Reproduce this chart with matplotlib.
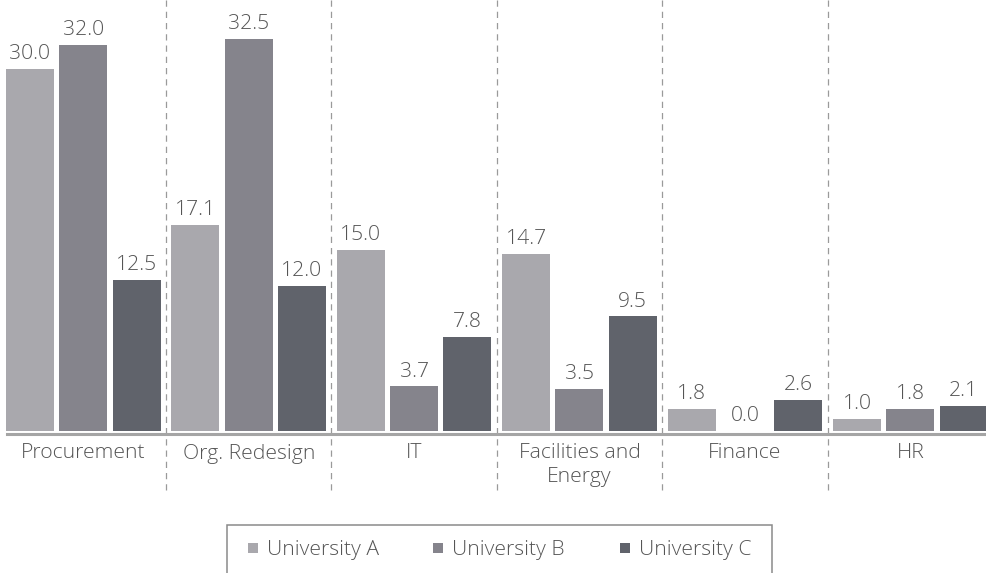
import matplotlib
matplotlib.use("Agg")
import matplotlib.pyplot as plt
from matplotlib.lines import Line2D
from matplotlib.patches import Rectangle
import numpy as np

categories = ["Procurement", "Org. Redesign", "IT", "Facilities and\nEnergy", "Finance", "HR"]
series_names = ["University A", "University B", "University C"]
uni_a = [30.0, 17.1, 15.0, 14.7, 1.8, 1.0]
uni_b = [32.0, 32.5, 3.7, 3.5, 0.0, 1.8]
uni_c = [12.5, 12.0, 7.8, 9.5, 2.6, 2.1]
colors = ["#a9a8ad", "#85848c", "#60636b"]

plt.rcParams['font.family'] = ['Open Sans', 'DejaVu Sans']
text_color = "#555555"
FS = 15.2
FW = 300

W, H = 986, 573
fig = plt.figure(figsize=(W / 100, H / 100), dpi=100)
base_px = 431
ax = fig.add_axes([0, (H - base_px) / H, 1, base_px / H])
px_per_unit = 12.06
ymax = base_px / px_per_unit
group_px = 165.4
center0 = 83.3
ax.set_xlim(-center0 / group_px, (W - center0) / group_px)
ax.set_ylim(0, ymax)

x = np.arange(len(categories))
bw = 48 / group_px
off = 53.3 / group_px
for k, (vals, col) in enumerate(zip([uni_a, uni_b, uni_c], colors)):
    pos = x + (k - 1) * off
    ax.bar(pos, vals, width=bw, color=col, label=series_names[k], zorder=2)
    for xi, v in zip(pos, vals):
        ax.annotate(f"{v:.1f}", (xi, v), xytext=(0, 3.5), textcoords="offset points",
                    ha="center", va="bottom", fontsize=FS, color=text_color,
                    fontweight=FW)

# baseline
ax.axhline(-0.22, xmin=7 / W, xmax=1, color="#a5a5a5", lw=2.2, clip_on=False, zorder=3)

# dashed separators
sep = x[:-1] + 0.5
ax.vlines(sep, -(490 - base_px) / px_per_unit, ymax, colors="#9a9a9a", lw=0.9,
          linestyles=(0, (5, 4)), clip_on=False, zorder=1)

ax.set_xticks(x)
ax.set_xticklabels(categories, fontsize=FS, color=text_color, fontweight=FW,
                   linespacing=1.25)
ax.tick_params(axis="x", length=0, pad=9)
ax.set_yticks([])
for s in ax.spines.values():
    s.set_visible(False)

# legend
fig.patches.append(Rectangle((227 / W, -0.05), 545 / W, 0.05 + 1 - 525 / H,
                             transform=fig.transFigure, fill=False,
                             edgecolor="#8a8a8a", lw=1.1))
handles = [Line2D([], [], marker="s", ls="none", markersize=7.2, color=c,
                  markeredgewidth=0) for c in colors]
leg = fig.legend(handles, series_names, loc="center", bbox_to_anchor=(499.5 / W, 1 - 550 / H),
                 ncol=3, frameon=False, handlelength=0.47, handletextpad=0.43,
                 columnspacing=2.6, prop={"size": FS, "weight": FW})
for t in leg.get_texts():
    t.set_color(text_color)

fig.savefig("out.png", dpi=100)
